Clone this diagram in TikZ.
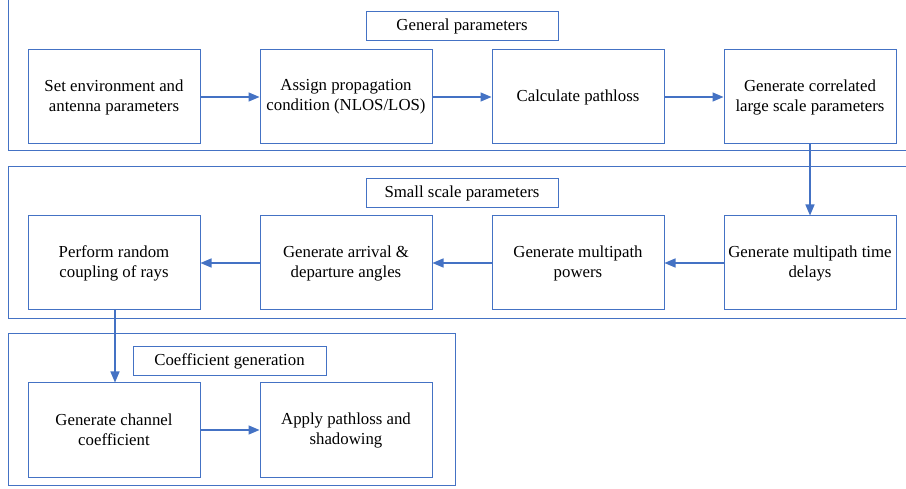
\documentclass[tikz,border=0pt]{standalone}
\usepackage{fontspec}
\setmainfont{Liberation Serif}
\usetikzlibrary{arrows.meta}
\definecolor{bl}{HTML}{4472C4}
\begin{document}
\begin{tikzpicture}[x=1pt,y=1pt,
  stepbox/.style={draw=bl,line width=1pt,minimum width=172pt,minimum height=94pt,align=center,inner sep=0pt,font=\fontsize{16.8}{20}\selectfont},
  titlebox/.style={draw=bl,line width=1pt,minimum width=192pt,minimum height=29pt,inner sep=0pt,font=\fontsize{16.8}{20}\selectfont},
  frame/.style={draw=bl,line width=1pt},
  conn/.style={draw=bl,line width=1.4pt,-{Triangle[length=11pt,width=9pt]}}]
\useasboundingbox (0,0) rectangle (906,-489);
\clip (0,0) rectangle (906,-489);
\fill[white] (0,0) rectangle (906,-489);
% frames
\draw[frame] (8,10) rectangle (930,-151);
\draw[frame] (8,-167) rectangle (930,-318.5);
\draw[frame] (8,-334) rectangle (455,-485.5);
% titles
\node[titlebox] (t1) at (462,-26.5) {General parameters};
\node[titlebox] (t2) at (462,-193) {Small scale parameters};
\node[titlebox,minimum width=193pt] (t3) at (229.5,-361.5) {Coefficient generation};
% row 1
\node[stepbox] (a1) at (114,-97) {Set environment and\\antenna parameters};
\node[stepbox] (a2) at (346,-97) {Assign propagation\\condition (NLOS/LOS)};
\node[stepbox] (a3) at (578,-97) {Calculate pathloss};
\node[stepbox] (a4) at (810,-97) {Generate correlated\\large scale parameters};
% row 2
\node[stepbox] (b4) at (810,-263) {Generate multipath time\\delays};
\node[stepbox] (b3) at (578,-263) {Generate multipath\\powers};
\node[stepbox] (b2) at (346,-263) {Generate arrival \&\\departure angles};
\node[stepbox] (b1) at (114,-263) {Perform random\\coupling of rays};
% row 3
\node[stepbox] (c1) at (114,-430) {Generate channel\\coefficient};
\node[stepbox] (c2) at (346,-430) {Apply pathloss and\\shadowing};
% connectors
\draw[conn] (a1) -- (a2);
\draw[conn] (a2) -- (a3);
\draw[conn] (a3) -- (a4);
\draw[conn] (a4) -- (b4);
\draw[conn] (b4) -- (b3);
\draw[conn] (b3) -- (b2);
\draw[conn] (b2) -- (b1);
\draw[conn] (b1.south) ++(1,0) coordinate (b1s) (b1s) -- (b1s |- c1.north);
\draw[conn] (c1) -- (c2);
\end{tikzpicture}
\end{document}
